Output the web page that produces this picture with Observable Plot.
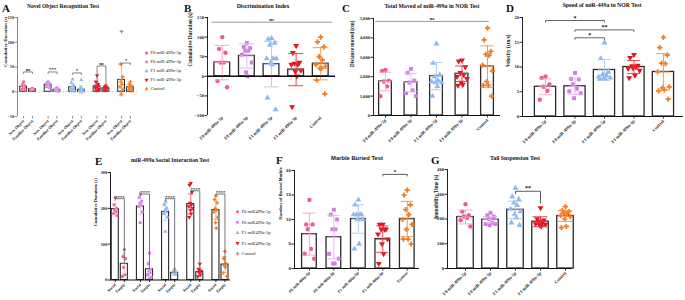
<!DOCTYPE html>
<html><head><meta charset="utf-8">
<script src="https://cdn.jsdelivr.net/npm/d3@7"></script>
<script src="https://cdn.jsdelivr.net/npm/@observablehq/plot@0.6"></script>
<style>
html,body{margin:0;padding:0;background:#fff;}
#root{position:relative;width:685px;height:300px;overflow:hidden;background:#fff;}
.t{position:absolute;font-family:"Liberation Serif",serif;font-weight:bold;color:#111;white-space:nowrap;line-height:1;}
</style></head><body><div id="root"></div>
<script>
// ---------------- DATA ----------------
const groupNames = ["F0 miR-499a-5p","F0 miR-499a-3p","F1 miR-499a-5p","F1 miR-499a-3p","Control"];
const legendNamesA = ["F0 miR-499a-5p","F0 miR-499a-3p","F1 miR-499a-5p","F1 miR-499a-3p","Control"];
const legendNamesE = ["F0 miR499a-5p","F0 miR499a-3p","F1 miR499a-5p","F1 miR499a-3p","Control"];
const groupColors = ["#ef5b8e","#d67be6","#8db8ee","#e3141f","#f47a20"];
const errColors   = ["#f5a5c2","#e6aef0","#a8c8f2","#e8323c","#f4913f"];

// A: Novel Object Recognition (New / Familiar)
const A_pairLabels = ["New Object","Familiar Object"];
const A_new = [[20,15,12,10,8,5,3],[20,18,17,15,13,10,8],[25,18,12,10,8,5,3,2,1],[33,20,15,12,10,8,5,3],[122,56,30,20,15,10,5,-5]];
const A_fam = [[7,6,5,5,4,3],[8,6,5,4,3,2,1],[24,8,5,3,2,1,1],[12,10,8,6,5,4],[20,15,12,10,8,5,2]];
const A_newMean = [10,14,9,11,24];
const A_newSd = [6,4,8,9,32];
const A_famMean = [5,4,4,7,9];
const A_famSd = [2,3,8,3,6];
const A_sigY = [40,40,38,52,58];
const A_sigLeg = [36,36,34,13,54];
const A_sigLabel = ["ns","***","*","ns","*"];
const A_yTicks = [-50,0,50,100,150];

// B: Discrimination Index
const B_points = [[100,70,60,35,35,-12,-28],[85,75,72,65,65,55,35,10,0],[97,95,85,80,45,45,45,35,30,-55,-85],[78,60,35,33,30,30,15,12,0,-78],[100,88,75,50,42,30,25,20,20,-10,-45]];
const B_mean = [35,52,31,17,32];
const B_sd = [44,31,58,41,41];
const B_nsY = 138;
const B_yTicks = [-100,-50,0,50,100,150];

// C: Total moved
const C_points = [[2350,2300,1800,1750,1500,1000],[2400,2200,1800,1700,1300,1150,1000],[3700,2700,2100,2000,1800,1750,1700,1700,1500,1000],[2850,2800,2500,2200,2100,2000,1900,1700,1600,1550],[4500,3900,3300,3150,3100,2600,2300,1750,1550,1550,1000]];
const C_mean = [1750,1700,2030,2150,2520];
const C_sd = [480,470,700,400,1070];
const C_nsY = 4850;
const C_yTicks = [0,1000,2000,3000,4000,5000];

// D: Speed
const D_points = [[8.1,7.8,6.5,6.0,5.2,3.4],[8.8,7.6,7.5,6.5,5.6,5.1,4.7,3.7],[14.9,11.7,9.0,8.5,8.3,8.0,7.8,7.7,7.6,7.5],[12.5,11.9,10.3,10.2,10.0,9.7,9.3,9.8,8.3,7.8],[16,13.9,12.4,10.8,10.7,9.0,6.0,5.8,5.4,5.2,3.5]];
const D_mean = [6.0,6.1,9.4,10.0,9.0];
const D_sd = [1.6,1.6,2.1,1.3,3.7];
const D_sigFrom = [0,1,1];
const D_sigTo = [2,3,2];
const D_sigY = [19.4,17.5,15.9];
const D_sigLabel = ["*","**","*"];
const D_yTicks = [0,5,10,15,20];

// E: Social interaction (Social / Empty)
const E_pairLabels = ["Social","Empty"];
const E_social = [[230,210,200,195,190,185,180],[240,230,220,215,210,205,190,160],[220,210,200,195,190,185,175,135],[270,265,245,215,210,205,200,195,185,175],[235,225,215,200,195,190,175,160,145]];
const E_empty = [[85,65,60,35,15,10],[75,45,30,25,20,15,8,5],[30,25,20,18,15],[45,30,25,20,15,10],[80,60,45,40,35,20,10]];
const E_socialMean = [198,205,190,212,195];
const E_socialSd = [15,22,24,28,26];
const E_emptyMean = [45,30,20,22,43];
const E_emptySd = [28,22,6,11,22];
const E_sigY = [227,240,227,249,240];
const E_sigLabel = ["****","****","****","****","****"];
const E_yTicks = [0,100,200,300];

// F: Marble buried
const F_points = [[14,9,9,8,4,3,2],[12,11,10,8,8,3,2,1,1],[14,13,11,11,11,11,10,10,5,4],[9,9,8,8,8,7,6,5,3,1],[16,15,13,12,11,10,9,8,6,6,5]];
const F_mean = [7.0,6.4,10.1,6.0,10.1];
const F_sd = [4.3,4.4,2.9,2.7,3.6];
const F_sigFrom = [3], F_sigTo = [4], F_sigY = [19.2], F_sigLabel = ["*"];
const F_yTicks = [0,5,10,15,20];

// G: Tail suspension
const G_points = [[260,230,215,210,205,195,170],[225,215,210,200,185,180,180,175],[325,290,280,265,255,240,230,220,205,185,175],[245,200,195,190,185,180,178,175,170],[250,235,230,225,220,215,210,200,170,165]];
const G_mean = [208,197,237,189,212];
const G_sd = [28,13,35,20,22];
const G_sigFrom = [2], G_sigTo = [3], G_sigY = [312], G_sigLabel = ["**"];
const G_yTicks = [0,100,200,300,400];

// ---------------- DRAWING ----------------
const root = document.getElementById("root");
const SERIF = "'Liberation Serif','Times New Roman',serif";
const SANS = "'Liberation Sans',Arial,sans-serif";
const triangleDown = {
  draw(context, size) {
    const y = -Math.sqrt(size / (Math.sqrt(3) * 3));
    context.moveTo(0, -y * 2);
    context.lineTo(-Math.sqrt(3) * y, y);
    context.lineTo(Math.sqrt(3) * y, y);
    context.closePath();
  }
};
const groupSymbols = ["circle","square","triangle",triangleDown,"cross"];
const JIT = [0,-1,1,-0.5,0.5,-1.5,1.5,-0.25,0.25,-1.25,1.25,-0.75,0.75];

function place(el, left, top) {
  el.style.position = "absolute";
  el.style.left = left + "px";
  el.style.top = top + "px";
  el.style.overflow = "visible";
  root.appendChild(el);
}
function label(text, x, y, size, opts = {}) {
  const d = document.createElement("div");
  d.className = "t";
  d.textContent = text;
  d.style.fontSize = size + "px";
  if (opts.font) d.style.fontFamily = opts.font;
  d.style.left = x + "px";
  d.style.top = (y - size / 2) + "px";
  if (opts.center) d.style.transform = "translateX(-50%)";
  root.appendChild(d);
}

function panel(c) {
  const marks = [];
  const [x0, x1] = c.xDomain, [y0, y1] = c.yDomain;
  const font = c.font || SERIF;
  const axisColor = c.axisColor || "#222";
  if (c.dashedZero) marks.push(Plot.ruleY([0], {stroke: "#999", strokeDasharray: "2,1.5", strokeWidth: 0.6}));
  // bars
  marks.push(Plot.rectY(c.sub, {x1: d => d.x - c.halfBar, x2: d => d.x + c.halfBar, y1: () => 0, y2: d => d.mean,
    fill: "white", stroke: "#2a2a2a", strokeWidth: c.barStroke || 1.3}));
  // points
  for (const d of c.sub) {
    const pts = d.pts.map((v, j) => ({x: d.x + JIT[j % JIT.length] * c.spread, y: v}));
    marks.push(Plot.dot(pts, {x: "x", y: "y", r: c.r, fill: groupColors[d.gi], symbol: groupSymbols[d.gi], stroke: "none"}));
  }
  // error bars
  for (const d of c.sub) {
    marks.push(Plot.ruleX([d], {x: "x", y1: e => e.mean - e.sd, y2: e => e.mean + e.sd, stroke: errColors[d.gi], strokeWidth: c.errW || 0.9}));
    marks.push(Plot.ruleY([d.mean - d.sd, d.mean, d.mean + d.sd], {y: v => v, x1: () => d.x - c.cap, x2: () => d.x + c.cap, stroke: errColors[d.gi], strokeWidth: c.errW || 0.9}));
  }
  // y axis line + ticks
  marks.push(Plot.ruleX([x0], {y1: () => y0, y2: () => y1, stroke: axisColor, strokeWidth: 1}));
  marks.push(Plot.axisY(c.yTicks, {tickSize: 2.5, tickPadding: 1, fontSize: c.tickFont || 4.6, fontWeight: "bold", label: null, stroke: axisColor, color: "#222"}));
  // zero / x axis line
  if (c.zeroLine) marks.push(Plot.ruleY([0], {stroke: "#111", strokeWidth: c.zeroW || 1.2}));
  // x axis labels
  const tickMap = new Map(c.xTicks.map(t => [t.x, t.label]));
  marks.push(Plot.axisX(c.xTicks.map(t => t.x), {anchor: "bottom", tickFormat: v => tickMap.get(v), tickRotate: -45, tickSize: c.xTickSize ?? 2.5, tickPadding: 1.5,
    fontSize: c.xFont || 4.5, fontWeight: "bold", label: null, stroke: axisColor}));
  // y label
  marks.push(Plot.text([c.yLabel], {text: d => d, frameAnchor: "left", rotate: -90, dx: -c.yLabelOffset, fontSize: c.yLabelFont || 5.2, fontWeight: "bold", fill: "#111"}));
  // brackets
  if (c.brackets) {
    const segs = [];
    for (const b of c.brackets) {
      segs.push({x1: b.x1, y1: b.leg1, x2: b.x1, y2: b.y});
      segs.push({x1: b.x1, y1: b.y, x2: b.x2, y2: b.y});
      segs.push({x1: b.x2, y1: b.y, x2: b.x2, y2: b.leg2});
    }
    marks.push(Plot.link(segs, {x1: "x1", y1: "y1", x2: "x2", y2: "y2", stroke: c.bracketColor || "#444", strokeWidth: c.bracketW || 0.8}));
    marks.push(Plot.text(c.brackets, {x: b => (b.x1 + b.x2) / 2, y: "y", text: "label", dy: c.sigDy ?? -2.8, fontSize: c.sigFont || 5.5, fontWeight: "bold", fill: "#222"}));
  }
  const svg = Plot.plot({
    width: c.width, height: c.height,
    marginTop: c.mt, marginBottom: c.mb, marginLeft: c.ml, marginRight: c.mr,
    x: {type: "linear", domain: c.xDomain},
    y: {type: "linear", domain: c.yDomain},
    style: {fontFamily: font, fontSize: "4px", background: "none", overflow: "visible", color: "#222"},
    marks
  });
  place(svg, c.left, c.top);
}

function singles(points, mean, sd) {
  return points.map((pts, g) => ({x: g, mean: mean[g], sd: sd[g], pts, gi: g}));
}
function singleTicks() { return groupNames.map((n, g) => ({x: g, label: n})); }
function sigBrackets(from, to, ys, labels, legDrop) {
  return from.map((f, i) => ({x1: f, x2: to[i], y: ys[i], leg1: ys[i] - legDrop, leg2: ys[i] - legDrop, label: labels[i]}));
}

function legend(names, left, top, spacing, fontSize, r) {
  const n = names.length, w = 60, h = spacing * n;
  const items = names.map((name, i) => ({name, i, y: i * spacing + spacing / 2}));
  const marks = [];
  for (const it of items) marks.push(Plot.dot([it], {x: () => 2, y: "y", r, fill: groupColors[it.i], symbol: groupSymbols[it.i], stroke: "none"}));
  marks.push(Plot.text(items, {x: () => 6, y: "y", text: "name", textAnchor: "start", fontSize, fill: "#222"}));
  const svg = Plot.plot({width: w, height: h, margin: 0, x: {domain: [0, w], range: [0, w], axis: null}, y: {domain: [0, h], range: [0, h], axis: null},
    style: {fontFamily: SERIF, background: "none", overflow: "visible"}, marks});
  place(svg, left, top);
}

// ---- Panel A ----
{
  const off = 0.18;
  const sub = [];
  const ticks = [];
  for (let g = 0; g < 5; g++) {
    sub.push({x: g - off, mean: A_newMean[g], sd: A_newSd[g], pts: A_new[g], gi: g});
    sub.push({x: g + off, mean: A_famMean[g], sd: A_famSd[g], pts: A_fam[g], gi: g});
    ticks.push({x: g - off, label: A_pairLabels[0]}, {x: g + off, label: A_pairLabels[1]});
  }
  const brackets = A_sigY.map((y, g) => ({x1: g - off, x2: g + off, y, leg1: A_sigLeg[g], leg2: A_sigLeg[g], label: A_sigLabel[g]}));
  panel({left: 0, top: 0, width: 145, height: 150, mt: 17, mb: 34, ml: 17, mr: 8,
    xDomain: [-0.43, 4.47], yDomain: [-50, 150], yTicks: A_yTicks, yLabel: "Cumulative Duration (s)", yLabelOffset: 12,
    sub, xTicks: ticks, halfBar: 0.14, cap: 0.09, r: 1.6, spread: 0.045, axisColor: "#888", dashedZero: true, barStroke: 1,
    errW: 0.7, brackets, bracketColor: "#666", sigFont: 5, xFont: 4, tickFont: 4.2, yLabelFont: 4.8});
  legend(legendNamesA, 144, 47.5, 9, 4.6, 1.5);
  label("A", 2, 8, 11);
  label("Novel Object Recognition Test", 63, 7, 5.6, {center: true});
}
// ---- Panel B ----
panel({left: 180, top: 0, width: 160, height: 150, mt: 17, mb: 35, ml: 27, mr: 5,
  xDomain: [-0.6, 4.6], yDomain: [-100, 150], yTicks: B_yTicks, yLabel: "Cumulative Duration (s)", yLabelOffset: 17,
  sub: singles(B_points, B_mean, B_sd), xTicks: singleTicks(), halfBar: 0.32, cap: 0.3, r: 2.2, spread: 0.13,
  zeroLine: true, zeroW: 1.4, xTickSize: 0,
  brackets: [{x1: -0.45, x2: 4.45, y: B_nsY, leg1: B_nsY, leg2: B_nsY, label: "ns"}], bracketColor: "#999", bracketW: 1, sigFont: 5});
label("B", 184, 8, 11);
label("Discrimination Index", 263, 7, 5.8, {center: true});
// ---- Panel C ----
panel({left: 345, top: 0, width: 160, height: 150, mt: 18, mb: 35, ml: 28, mr: 5,
  xDomain: [-0.47, 4.51], yDomain: [0, 5000], yTicks: C_yTicks, yLabel: "Distance moved (cm)", yLabelOffset: 21,
  sub: singles(C_points, C_mean, C_sd), xTicks: singleTicks(), halfBar: 0.25, cap: 0.25, r: 2.2, spread: 0.13,
  zeroLine: true,
  brackets: [{x1: -0.4, x2: 4.05, y: C_nsY, leg1: C_nsY, leg2: C_nsY, label: "ns"}], bracketColor: "#999", bracketW: 1, sigFont: 5});
label("C", 342, 8, 11);
label("Total Moved of miR-499a in NOR Test", 432, 7, 5.8, {center: true});
// ---- Panel D ----
panel({left: 500, top: 0, width: 185, height: 150, mt: 17, mb: 34, ml: 22, mr: 2,
  xDomain: [-0.78, 4.68], yDomain: [0, 20], yTicks: D_yTicks, yLabel: "Velocity (cm/s)", yLabelOffset: 14,
  sub: singles(D_points, D_mean, D_sd), xTicks: singleTicks(), halfBar: 0.36, cap: 0.22, r: 2.2, spread: 0.13,
  zeroLine: true,
  brackets: sigBrackets(D_sigFrom, D_sigTo, D_sigY, D_sigLabel, 0.4), bracketColor: "#555", bracketW: 0.9, sigFont: 6});
label("D", 506, 8, 11);
label("Speed of miR-449a in NOR Test", 602, 6, 5.8, {center: true});
// ---- Panel E ----
{
  const off = 0.18;
  const sub = [];
  const ticks = [];
  for (let g = 0; g < 5; g++) {
    sub.push({x: g - off, mean: E_socialMean[g], sd: E_socialSd[g], pts: E_social[g], gi: g});
    sub.push({x: g + off, mean: E_emptyMean[g], sd: E_emptySd[g], pts: E_empty[g], gi: g});
    ticks.push({x: g - off, label: E_pairLabels[0]}, {x: g + off, label: E_pairLabels[1]});
  }
  const brackets = E_sigY.map((y, g) => ({x1: g - off, x2: g + off, y, leg1: y - 6, leg2: E_emptyMean[g], label: E_sigLabel[g]}));
  panel({left: 88, top: 150, width: 147, height: 150, mt: 22, mb: 20.5, ml: 22, mr: 5,
    xDomain: [-0.37, 4.4], yDomain: [0, 300], yTicks: E_yTicks, yLabel: "Cumulative Duration (s)", yLabelOffset: 15,
    sub, xTicks: ticks, halfBar: 0.14, cap: 0.09, r: 1.6, spread: 0.05, zeroLine: true, barStroke: 1.1, errW: 0.7,
    brackets, bracketColor: "#555", sigFont: 5, sigDy: -1.6, xFont: 4, tickFont: 4.2, yLabelFont: 4.6});
  legend(legendNamesE, 235, 206, 10.5, 4.6, 1.5);
  label("E", 95, 161, 11);
  label("miR-499a Social Interaction Test", 170, 161, 5.6, {center: true});
}
// ---- Panel F ----
panel({left: 270, top: 150, width: 150, height: 150, mt: 20, mb: 32, ml: 24, mr: 1,
  xDomain: [-0.61, 4.5], yDomain: [0, 20], yTicks: F_yTicks, yLabel: "Number of Buried Marble", yLabelOffset: 14,
  sub: singles(F_points, F_mean, F_sd), xTicks: singleTicks(), halfBar: 0.3, cap: 0.25, r: 2.2, spread: 0.13,
  zeroLine: true, font: SANS, xFont: 3.8, yLabelFont: 4.4, tickFont: 4.4,
  brackets: sigBrackets(F_sigFrom, F_sigTo, F_sigY, F_sigLabel, 0.4), bracketColor: "#333", sigFont: 6});
label("F", 276, 160, 11);
label("Marble Buried Test", 357, 159, 5.8, {center: true, font: SANS});
// ---- Panel G ----
panel({left: 425, top: 150, width: 150, height: 150, mt: 19, mb: 32, ml: 22, mr: 3,
  xDomain: [-0.72, 4.28], yDomain: [0, 400], yTicks: G_yTicks, yLabel: "Immobility Time (s)", yLabelOffset: 11,
  sub: singles(G_points, G_mean, G_sd), xTicks: singleTicks(), halfBar: 0.33, cap: 0.3, r: 2.2, spread: 0.13,
  zeroLine: true,
  brackets: [{x1: G_sigFrom[0], x2: G_sigTo[0], y: G_sigY[0], leg1: 300, leg2: 262, label: G_sigLabel[0]}], bracketColor: "#333", sigFont: 6});
label("G", 431, 160, 11);
label("Tail Suspension Test", 515, 159, 5.8, {center: true});
</script></body></html>
